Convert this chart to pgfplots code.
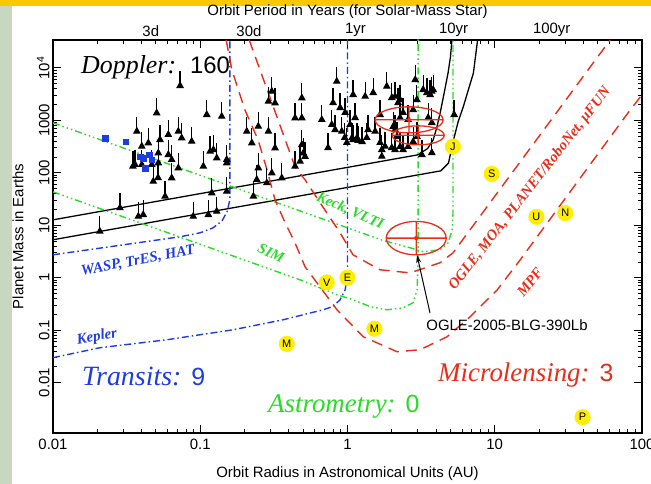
\documentclass[border=0pt]{standalone}
\usepackage{fontspec}
\setmainfont{Liberation Sans}
\newfontfamily\tms{Liberation Serif}
\usepackage{pgfplots}
\pgfplotsset{compat=1.18}
\usetikzlibrary{arrows.meta}

\definecolor{cblue}{RGB}{30,60,225}
\definecolor{cgreen}{RGB}{40,220,40}
\definecolor{cred}{RGB}{232,45,25}
\definecolor{cyell}{RGB}{255,238,0}
\definecolor{band}{RGB}{250,200,0}
\definecolor{strip}{RGB}{200,215,192}

\pgfdeclareplotmark{dop}{%
  \pgfpathmoveto{\pgfpoint{0bp}{0bp}}%
  \pgfpathlineto{\pgfpoint{0bp}{15bp}}%
  \pgfusepathqstroke
  \pgfpathmoveto{\pgfpoint{-2.8bp}{-1.5bp}}%
  \pgfpathlineto{\pgfpoint{2.8bp}{-1.5bp}}%
  \pgfpathlineto{\pgfpoint{0bp}{3.5bp}}%
  \pgfpathclose
  \pgfusepathqfillstroke
}
\pgfdeclareplotmark{ellA}{%
  \pgfpathellipse{\pgfpointorigin}{\pgfpoint{34bp}{0bp}}{\pgfpoint{0bp}{13bp}}%
  \pgfpathmoveto{\pgfpoint{-34bp}{0bp}}\pgfpathlineto{\pgfpoint{34bp}{0bp}}%
  \pgfpathmoveto{\pgfpoint{0bp}{-13bp}}\pgfpathlineto{\pgfpoint{0bp}{13bp}}%
  \pgfusepathqstroke
  \pgfpathcircle{\pgfpointorigin}{2bp}\pgfusepathqfill
}
\pgfdeclareplotmark{ellB}{%
  \pgfpathellipse{\pgfpointorigin}{\pgfpoint{26bp}{0bp}}{\pgfpoint{0bp}{9.5bp}}%
  \pgfpathmoveto{\pgfpoint{-26bp}{0bp}}\pgfpathlineto{\pgfpoint{26bp}{0bp}}%
  \pgfpathmoveto{\pgfpoint{0bp}{-9.5bp}}\pgfpathlineto{\pgfpoint{0bp}{9.5bp}}%
  \pgfusepathqstroke
  \pgfpathcircle{\pgfpointorigin}{2bp}\pgfusepathqfill
}
\pgfdeclareplotmark{ellC}{%
  \pgfpathellipse{\pgfpointorigin}{\pgfpoint{30bp}{0bp}}{\pgfpoint{0bp}{16.7bp}}%
  \pgfpathmoveto{\pgfpoint{-30bp}{0bp}}\pgfpathlineto{\pgfpoint{30bp}{0bp}}%
  \pgfpathmoveto{\pgfpoint{0bp}{-16.7bp}}\pgfpathlineto{\pgfpoint{0bp}{16.7bp}}%
  \pgfusepathqstroke
  \pgfpathcircle{\pgfpointorigin}{2.2bp}\pgfusepathqfill
}

\pgfplotstableread{
a m
0.0730 4540
0.0506 1370
0.0371 612
0.0533 425
0.0607 530
0.0710 612
0.0748 458
0.0875 394
0.0401 317
0.0444 368
0.0519 237
0.0607 220
0.0349 132
0.0640 177
0.0710 123
0.0361 142
0.0401 142
0.0469 142
0.0519 153
0.0480 68.2
0.0517 80
0.0640 79.3
0.0577 35.4
0.0285 21.3
0.0380 14.7
0.0410 15.8
0.0208 7.62
0.0897 14.7
0.1107 1273
0.1399 1180
0.1167 255
0.1228 274
0.1294 190
0.1513 177
0.1050 132
0.2904 2282
0.3221 2128
0.3062 3540
0.207 612
0.224 368
0.248 762
0.2904 612
0.3221 295
0.4406 1102
0.4898 1102
0.4898 341
0.5012 237
0.248 123
0.4406 132
0.1513 153
0.1197 41.0
0.1513 44.0
0.1135 15.8
0.1294 18.3
0.2296 35.4
0.2420 73.6
0.2831 63.7
0.3062 98.6
0.3579 79.3
0.4764 164
0.4898 2649
0.5152 202
0.6689 1023
0.7378 299
0.7820 821
0.7982 2154
0.8241 659
0.8454 5486
0.9143 612
0.8913 1731
0.9573 464
0.9638 1390
0.989 373
1.042 821
1.075 464
1.092 425
1.162 464
1.181 407
1.257 389
1.092 3062
1.127 1116
1.318 2839
1.352 464
1.380 659
1.494 3342
1.541 612
1.665 1273
1.665 373
1.711 204
1.849 4406
2.000 2683
2.105 2839
2.206 2154
2.276 2457
2.386 1390
2.276 1116
2.580 1023
2.792 1585
2.884 5906
2.958 2457
3.265 3811
3.460 3342
3.642 3062
3.739 3540
3.818 3811
3.531 1116
3.739 896
2.042 752
2.105 659
2.172 485
2.276 313
2.386 274
2.580 313
2.792 389
2.970 485
3.199 220
3.739 240
1.711 274
1.800 317
2.000 299
2.105 274
5.30 1273
}\doppler

\pgfplotstableread{
a m
0.02255 458
0.0312 394
0.0390 204
0.0410 191
0.0422 123
0.0451 220
0.0469 177
}\transit

\pgfplotstableread{
a m n
0.387 0.055 M
0.723 0.815 V
1.0 1.0 E
1.524 0.107 M
5.20 318 J
9.54 95.2 S
19.2 14.5 U
30.1 17.1 N
39.5 0.0022 P
}\solar

\begin{document}
\begin{tikzpicture}
\path[use as bounding box] (0,0) rectangle (651bp,484bp);
\fill[white] (0,0) rectangle (651bp,484bp);
\fill[strip] (0,0) rectangle (12bp,484bp);
\fill[band] (0,478bp) rectangle (651bp,484bp);

% top axis: orbital period
\begin{axis}[at={(53bp,51bp)}, anchor=south west, scale only axis,
  width=589bp, height=393bp,
  xmode=log, xmin=0.01, xmax=100, ymin=0, ymax=1,
  axis x line*=top, axis y line=none,
  axis line style={draw=none},
  xtick={0.0407,0.189,1,4.64,21.5},
  xticklabels={3d,30d,1yr,10yr,100yr},
  xminorticks=false, major tick length=0pt,
  xticklabel style={font=\fontsize{15}{15}\selectfont, xshift=8bp},
  xlabel={Orbit Period in Years (for Solar-Mass Star)},
  xlabel style={font=\fontsize{15}{15}\selectfont, at={(axis description cs:0.5,1.071)}, anchor=center}]
\addplot[draw=none] coordinates {(1,0.5)};
\end{axis}

\begin{axis}[at={(53bp,51bp)}, anchor=south west, scale only axis,
  width=589bp, height=393bp,
  xmode=log, ymode=log, xmin=0.01, xmax=100, ymin=0.0011, ymax=34000,
  xtick={0.01,0.1,1,10,100}, xticklabels={0.01,0.1,1,10,100},
  ytick={0.01,0.1,1,10,100,1000,10000},
  yticklabels={0.01,0.1,1,10,100,1000,10\textsuperscript{4}},
  yticklabel style={rotate=90, anchor=south},
  xticklabel style={yshift=-3bp},
  tick label style={font=\fontsize{15}{15}\selectfont},
  label style={font=\fontsize{15}{15}\selectfont},
  xlabel={Orbit Radius in Astronomical Units (AU)},
  ylabel={Planet Mass in Earths},
  xlabel style={at={(axis description cs:0.5,-0.104)}, anchor=center},
  ylabel style={at={(axis description cs:-0.0594,0.5)}, anchor=center},
  axis line style={line width=1.4bp},
  major tick length=8bp, minor tick length=4bp,
  every tick/.style={black, line width=0.9bp},
  clip=true]

% Doppler limits
\addplot[black, line width=1.3bp] coordinates {(0.01,12.7) (3.0,220) (3.5,290) (3.82,425) (4.05,750) (4.26,1390) (4.55,3500) (4.82,8030) (5.0,16000) (5.15,40000)};
\addplot[black, line width=1.3bp] coordinates {(0.01,5.3) (4.3,109) (4.85,153) (5.25,425) (5.64,936) (6.12,1832) (7.16,7930) (7.55,25500) (7.7,40000)};

% transits
\addplot[cblue, line width=1.4bp, dash pattern=on 7bp off 3bp on 1.5bp off 3bp] coordinates {(0.01,2.74) (0.073,6.04) (0.1,7.2) (0.1223,8.96) (0.1407,12.2) (0.152,18.1) (0.159,30.6) (0.159,40000)};
\addplot[cblue, line width=1.4bp, dash pattern=on 7bp off 3bp on 1.5bp off 3bp] coordinates {(0.01,0.030) (0.0208,0.0464) (0.0594,0.0659) (0.167,0.102) (0.365,0.158) (0.683,0.245) (0.798,0.284) (0.891,0.381) (0.964,0.59) (1.0,1.14) (1.0,40000)};

% astrometry
\addplot[cgreen, line width=1.4bp, dash pattern=on 7bp off 3bp on 1.5bp off 3bp on 1.5bp off 3bp on 1.5bp off 3bp] coordinates {(0.01,896) (1.75,5.12) (2.66,3.73) (3.27,3.13) (4.26,3.41) (4.82,4.64) (5.14,8.2) (5.21,17.3) (5.21,40000)};
\addplot[cgreen, line width=1.4bp, dash pattern=on 7bp off 3bp on 1.5bp off 3bp on 1.5bp off 3bp on 1.5bp off 3bp] coordinates {(0.01,43.4) (0.5,0.87) (0.849,0.474) (1.09,0.381) (1.43,0.281) (1.86,0.245) (2.39,0.268) (2.79,0.334) (2.97,0.59) (3.02,2.51) (3.02,40000)};

% microlensing
\addplot[cred, line width=1.4bp, dash pattern=on 11bp off 7bp] coordinates {(0.215,34100) (0.44,130) (0.515,73.6) (0.652,26.8) (0.891,7.19) (1.09,2.74) (1.66,1.42) (2.66,1.24) (4.25,1.93) (5.21,2.99) (60.8,34100)};
\addplot[cred, line width=1.4bp, dash pattern=on 11bp off 7bp] coordinates {(0.150,34100) (0.164,9160) (0.201,1585) (0.247,425) (0.284,114) (0.322,30.6) (0.377,11.2) (0.440,4.64) (0.515,1.62) (0.849,0.245) (1.28,0.0752) (2.17,0.0389) (3.11,0.0425) (4.75,0.0752) (6.81,0.181) (10.4,0.59) (14.9,2.2) (83.2,1585) (100,3060)};

% Doppler planets
\addplot[only marks, mark=dop, mark options={draw=black, fill=black, line width=1.3bp}] table[x=a, y=m] {\doppler};

% transiting planets
\addplot[only marks, mark=square*, mark size=2.8bp, mark options={draw=cblue, fill=cblue}] table[x=a, y=m] {\transit};

% microlensing planets
\addplot[only marks, mark=ellA, mark options={draw=cred, fill=cred, line width=1.3bp}] coordinates {(2.62,1023)};
\addplot[only marks, mark=ellB, mark options={draw=cred, fill=cred, line width=1.3bp}] coordinates {(3.02,518)};
\addplot[only marks, mark=ellC, mark options={draw=cred, fill=cred, line width=1.3bp}] coordinates {(2.93,5.7)};

% solar system
\addplot[only marks, mark=*, mark size=7.8bp, mark options={draw=cyell, fill=cyell},
  nodes near coords, point meta=explicit symbolic,
  nodes near coords align=center,
  nodes near coords style={anchor=center, text=black, font=\fontsize{11}{11}\selectfont}]
  table[x=a, y=m, meta=n] {\solar};
\end{axis}

% annotations
\node[anchor=west, inner sep=0pt] at (81bp,417bp) {\tms\itshape\fontsize{26}{26}\selectfont Doppler:\hspace{14bp}\normalfont\fontsize{24}{24}\selectfont 160};
\node[anchor=west, inner sep=0pt, text=cblue] at (82bp,108bp) {\tms\itshape\fontsize{28}{28}\selectfont Transits:\hspace{10bp}\normalfont\fontsize{25}{25}\selectfont 9};
\node[anchor=west, inner sep=0pt, text=cgreen] at (268bp,77bp) {\tms\itshape\fontsize{27}{27}\selectfont Astrometry:\hspace{10bp}\normalfont\fontsize{25}{25}\selectfont 0};
\node[anchor=west, inner sep=0pt, text=cred] at (438bp,109bp) {\tms\itshape\fontsize{27}{27}\selectfont Microlensing:\hspace{10bp}\normalfont\fontsize{25}{25}\selectfont 3};

\node[rotate=11, text=cblue, font=\tms\bfseries\itshape\fontsize{15}{15}\selectfont] at (138bp,223bp) {WASP, TrES, HAT};
\node[rotate=10, text=cblue, font=\tms\bfseries\itshape\fontsize{15}{15}\selectfont] at (97bp,147bp) {Kepler};
\node[rotate=-25, text=cgreen, font=\tms\bfseries\itshape\fontsize{15}{15}\selectfont] at (271bp,231bp) {SIM};
\node[rotate=-24, text=cgreen, font=\tms\bfseries\itshape\fontsize{15}{15}\selectfont] at (350bp,273bp) {Keck, VLTI};
\node[rotate=52, text=cred, font=\tms\bfseries\itshape\fontsize{15}{15}\selectfont] at (530bp,295bp) {OGLE, MOA, PLANET/RoboNet, μFUN};
\node[rotate=52, text=cred, font=\tms\bfseries\itshape\fontsize{15}{15}\selectfont] at (530bp,202bp) {MPF};
\node[font=\fontsize{15}{15}\selectfont] at (507bp,159bp) {OGLE-2005-BLG-390Lb};
\draw[-{Stealth[length=8bp,width=5bp]}, line width=1bp] (430bp,171bp) -- (417bp,229bp);
\end{tikzpicture}
\end{document}
